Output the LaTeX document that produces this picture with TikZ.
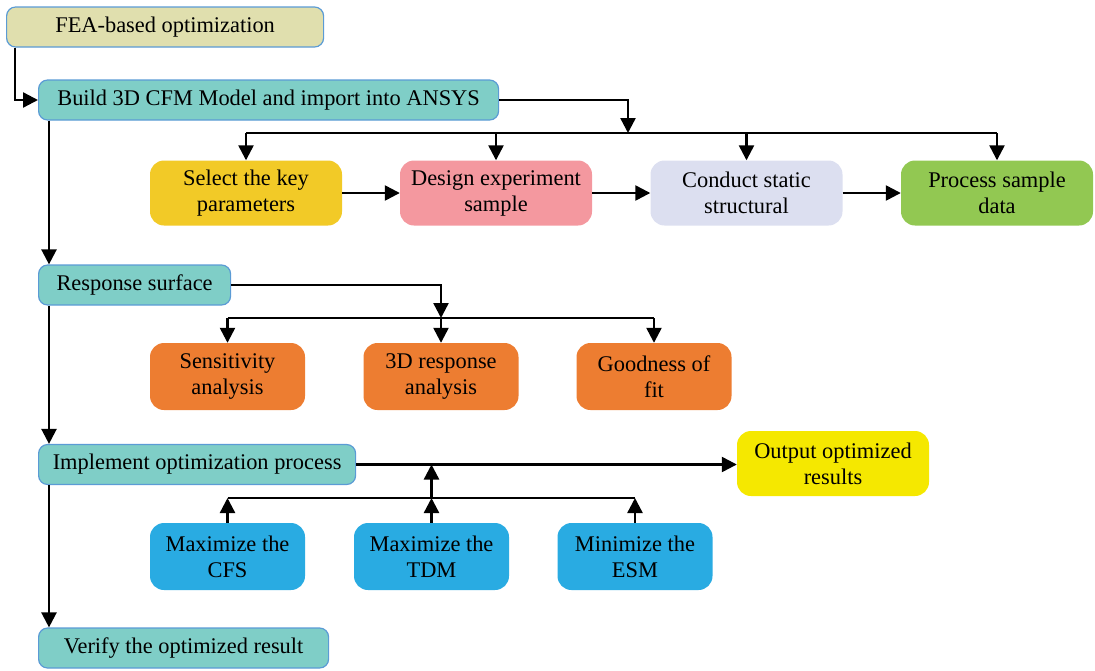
\documentclass[tikz,border=0pt]{standalone}
\usepackage{fontspec}
\setmainfont{Liberation Serif}
\usetikzlibrary{arrows.meta,calc}
\definecolor{edgeblue}{RGB}{91,155,213}
\definecolor{khaki}{RGB}{224,223,174}
\definecolor{tealbox}{RGB}{127,206,199}
\definecolor{keyyellow}{RGB}{242,202,39}
\definecolor{pinkbox}{RGB}{244,152,159}
\definecolor{lavender}{RGB}{220,223,240}
\definecolor{greenbox}{RGB}{146,200,82}
\definecolor{orangebox}{RGB}{237,125,49}
\definecolor{outyellow}{RGB}{245,232,0}
\definecolor{bluebox}{RGB}{41,171,226}
\begin{document}
\begin{tikzpicture}[x=1pt,y=-1pt,
	box/.style={rounded corners=9pt,inner sep=0pt,align=center,font=\fontsize{22.4}{26}\selectfont},
	mainbox/.style={box,draw=edgeblue,line width=1.2pt,fill=tealbox,anchor=west,minimum height=40pt},
	subbox/.style={box,rounded corners=14pt,minimum width=192pt,minimum height=65pt},
	smallbox/.style={subbox,minimum width=155pt,minimum height=67pt},
	arr/.style={-{Triangle[length=15pt,width=15pt]},line width=2.4pt},
	bar/.style={line width=2.4pt}]
		\useasboundingbox (0,0) rectangle (1095,670);
		% main column
		\node[mainbox,fill=khaki,minimum width=317pt] (fea) at (6,27) {FEA-based optimization};
		\node[mainbox,minimum width=460pt] (build) at (38,100) {Build 3D CFM Model and import into ANSYS};
		\node[mainbox,minimum width=192pt] (resp) at (38,285) {Response surface};
		\node[mainbox,minimum width=317pt] (impl) at (38,464.5) {Implement optimization process};
		\node[mainbox,minimum width=290pt] (verify) at (38,648) {Verify the optimized result};
		
		% first row
		\node[subbox,fill=keyyellow] (select) at (246,193) {Select the key\\parameters};
		\node[subbox,fill=pinkbox] (design) at (496,193) {Design experiment\\sample};
		\node[subbox,fill=lavender] (conduct) at (746.5,193) {Conduct static\\structural};
		\node[subbox,fill=greenbox] (process) at (997,193) {Process sample\\data};
		
		% second row
		\node[smallbox,fill=orangebox] (sens) at (227.5,376.5) {Sensitivity\\analysis};
		\node[smallbox,fill=orangebox] (resp3d) at (441,376.5) {3D response\\analysis};
		\node[smallbox,fill=orangebox] (fit) at (654,376.5) {Goodness of\\fit};
		
		% third row
		\node[subbox,fill=outyellow] (out) at (833,463.5) {Output optimized\\results};
		\node[smallbox,fill=bluebox] (cfs) at (227.5,556.5) {Maximize the\\CFS};
		\node[smallbox,fill=bluebox] (tdm) at (431.5,556.5) {Maximize the\\TDM};
		\node[smallbox,fill=bluebox] (esm) at (635,556.5) {Minimize the\\ESM};
		
		% spine
		\draw[arr] ($(fea.south west)+(9,0)$) |- (build.west);
		\draw[arr] ($(build.south west)+(11,0)$) -- ($(resp.north west)+(11,0)$);
		\draw[arr] ($(resp.south west)+(11,0)$) -- ($(impl.north west)+(11,0)$);
		\draw[arr] ($(impl.south west)+(11,0)$) -- ($(verify.north west)+(11,0)$);
		
		% build -> first row
		\coordinate (b1) at (628,133);
		\draw[arr] (build.east) -| (b1);
		\draw[bar] (select.north |- b1) -- (process.north |- b1);
		\foreach \n in {select,design,conduct,process}
			\draw[arr] (\n.north |- b1) -- (\n.north);
		\draw[arr] (select) -- (design);
		\draw[arr] (design) -- (conduct);
		\draw[arr] (conduct) -- (process);
		
		% response -> second row
		\coordinate (r1) at (441,318);
		\draw[arr] (resp.east) -| (r1);
		\draw[bar] (sens.north |- r1) -- (fit.north |- r1);
		\foreach \n in {sens,resp3d,fit}
			\draw[arr] (\n.north |- r1) -- (\n.north);
		
		% objectives -> implement
		\coordinate (i1) at (431.5,498);
		\draw[arr] (impl.east) -- (impl.east -| out.west);
		\draw[bar] (cfs.north |- i1) -- (esm.north |- i1);
		\foreach \n in {cfs,tdm,esm}
			\draw[arr] (\n.north) -- (\n.north |- i1);
		\draw[arr] (i1) -- (i1 |- impl.east);
\end{tikzpicture}
\end{document}
